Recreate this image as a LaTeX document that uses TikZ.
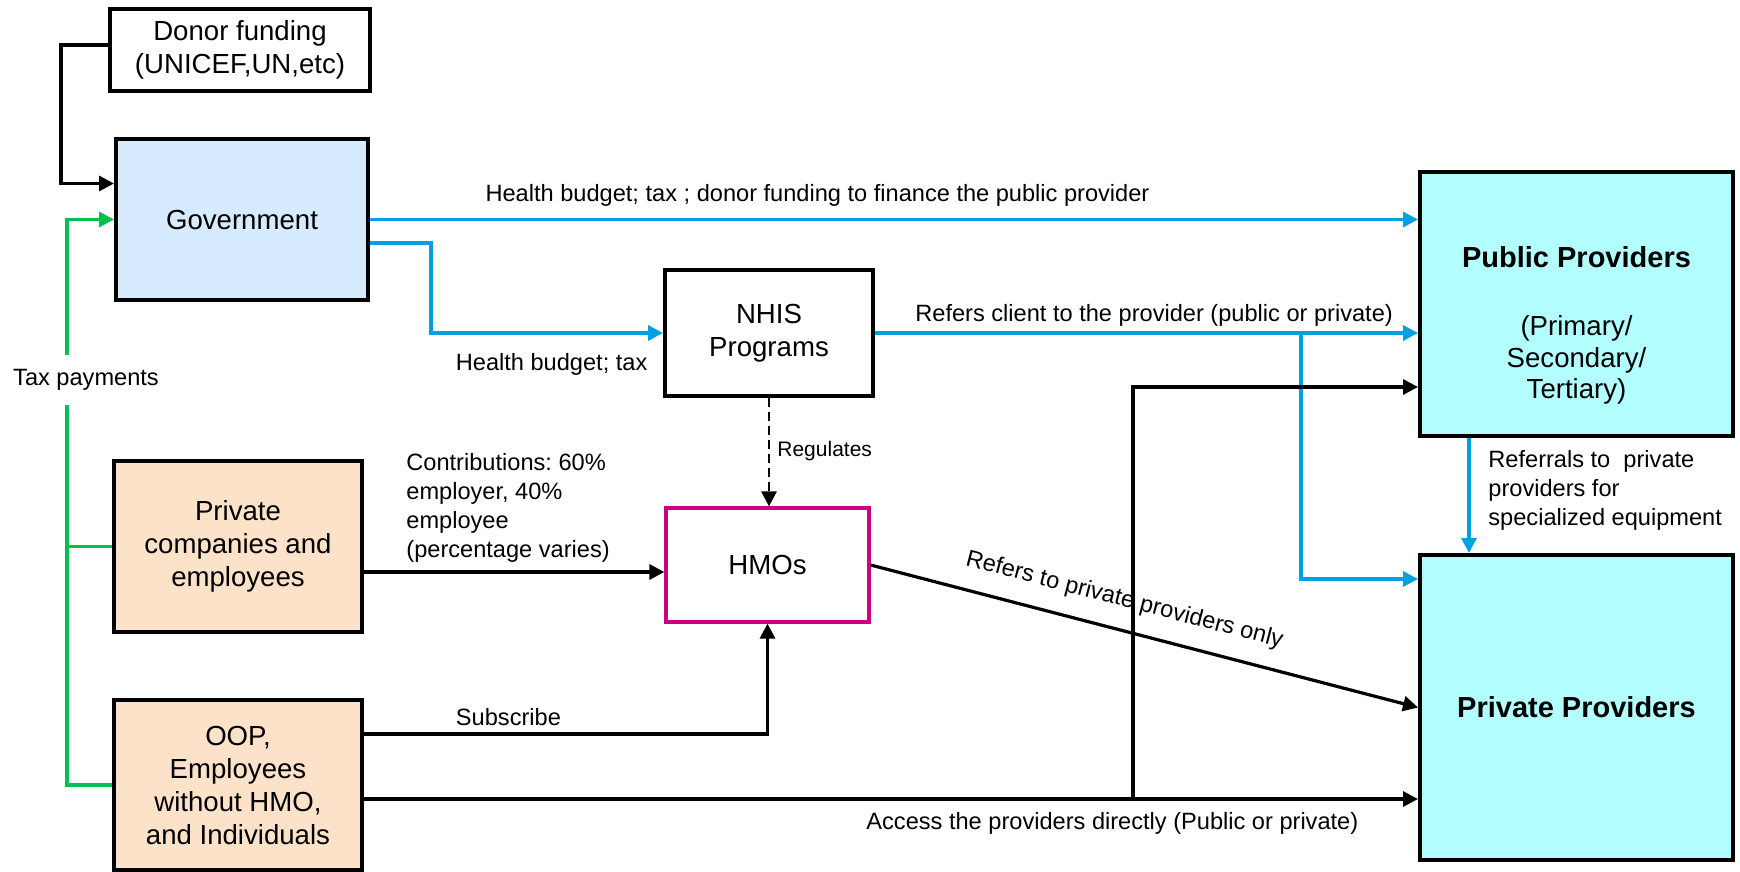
\documentclass[tikz,border=0pt]{standalone}
\usepackage{fontspec}
\setmainfont{Liberation Sans}
\usetikzlibrary{arrows.meta}
\definecolor{flowblue}{RGB}{0,160,227}
\definecolor{taxgreen}{RGB}{0,192,80}
\definecolor{hmopink}{RGB}{204,0,128}
\definecolor{govfill}{RGB}{214,235,253}
\definecolor{payfill}{RGB}{253,226,202}
\definecolor{provfill}{RGB}{179,255,255}
\frenchspacing
\begin{document}
\begin{tikzpicture}[x=0.5pt, y=-0.5pt,
    box/.style={draw, line width=2pt, align=center, inner sep=0pt,
      font=\fontsize{13.8}{16.5}\selectfont},
    lbl/.style={inner sep=0pt, text=black, font=\fontsize{11.8}{14.5}\selectfont},
    flow/.style={line width=1.6pt, -{Triangle[length=7.5pt,width=7.5pt]}},
    regline/.style={line width=1.3pt, dash pattern=on 4.5pt off 2.5pt}]
  \useasboundingbox (0,0) rectangle (1740,872);
  \draw
    (240,50) node[box, minimum width=130pt, minimum height=41pt] (donor) {Donor funding\\(UNICEF,UN,etc)}
    (242,219.5) node[box, fill=govfill, minimum width=126pt, minimum height=80.5pt] (gov) {Government}
    (238,546.5) node[box, fill=payfill, minimum width=124pt, minimum height=85.5pt] (privco) {Private\\companies and\\employees}
    (238,785) node[box, fill=payfill, minimum width=124pt, minimum height=85pt] (oop) {OOP,\\Employees\\without HMO,\\and Individuals}
    (769,333) node[box, minimum width=104pt, minimum height=63pt] (nhis) {NHIS\\Programs}
    (767.5,565) node[box, draw=hmopink, line width=1.6pt, minimum width=101.5pt, minimum height=57pt] (hmo) {HMOs}
    (1576.5,304) node[box, fill=provfill, minimum width=156.5pt, minimum height=132pt,
      font=\fontsize{13.8}{15.75}\selectfont] (public)
      {\rule{0pt}{31.9pt}{\fontsize{14.5}{15.75}\selectfont\bfseries Public Providers}\\[18.25pt](Primary/\\Secondary/\\Tertiary)}
    (1576.5,707.5) node[box, fill=provfill, minimum width=156.5pt, minimum height=152.5pt,
      font=\fontsize{14.5}{17}\selectfont\bfseries] (private) {Private Providers};
  \coordinate (taxbus) at (67,380);
  \coordinate (refsplit) at (1301,333);
  \coordinate (directsplit) at (1133,797);
  \begin{scope}[flow]
    \draw ([yshift=2.5pt]donor.west) -- ++(-47,0) |- ([yshift=18pt]gov.west);
    \draw[taxgreen] (oop.west) -| (taxbus) |- (gov.west);
    \draw[taxgreen, -] (privco.west) -- (privco.west -| taxbus);
    \draw[flowblue] (gov.east) -- node[lbl, pos=0.427, above=6pt] (budgetall)
      {Health budget; tax ; donor funding to finance the public provider} (gov.east -| public.west);
    \draw[flowblue] ([yshift=-11.75pt]gov.east) -- ++(61,0) |- node[lbl, pos=0.76, below=9.4pt] (budgettax)
      {Health budget; tax} (nhis.west);
    \draw[flowblue] (nhis.east) -- node[lbl, pos=0.514, above=2.4pt] (refclient)
      {Refers client to the provider (public or private)} (nhis.east -| public.west);
    \draw[flowblue] (refsplit) |- ([yshift=64.25pt]private.west);
    \draw[flowblue] ([xshift=-53.75pt]public.south) -- ([xshift=-53.75pt]private.north);
    \draw[regline] (nhis.south) -- (nhis.south |- hmo.north);
    \draw ([yshift=-12.75pt]privco.east) -- ([yshift=-12.75pt]privco.east -| hmo.west);
    \draw ([yshift=25.5pt]oop.east) -| node[lbl, pos=0.179, above=3.4pt] (subscribe) {Subscribe} (hmo.south);
    \draw (hmo.east) -- node[lbl, sloped, pos=0.45, above=8.5pt] (privonly)
      {Refers to private providers only} (private.west);
    \draw ([yshift=-7pt]oop.east) -- node[lbl, pos=0.71, below=6pt] (direct)
      {Access the providers directly (Public or private)} ([yshift=-7pt]oop.east -| private.west);
    \draw (directsplit) |- ([yshift=-41.5pt]public.west);
  \end{scope}
  \node[lbl, fill=white, minimum height=25pt] (tax) at (86,380) {Tax payments};
  \node[lbl, anchor=west, align=left] (contrib) at (406,508)
    {Contributions: 60\%\\employer, 40\%\\employee\\(percentage varies)};
  \node[lbl, font=\fontsize{10.5}{12}\selectfont, anchor=west] (regulates) at (777,451) {Regulates};
  \node[lbl, anchor=west, align=left] (referrals) at (1488,490)
    {Referrals to~ private\\providers for\\specialized equipment};
\end{tikzpicture}
\end{document}
